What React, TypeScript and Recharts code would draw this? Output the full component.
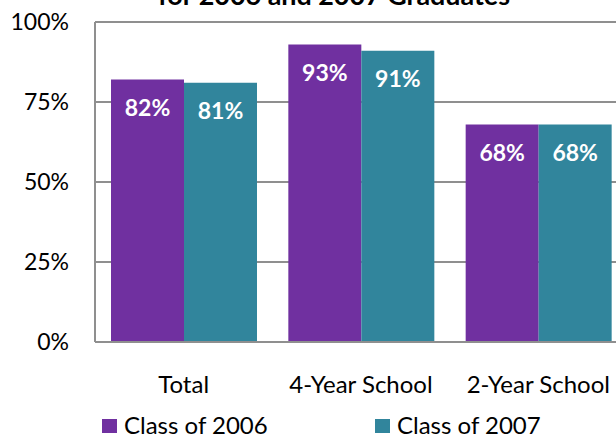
import { BarChart, Bar, XAxis, YAxis, CartesianGrid, LabelList } from 'recharts';

const categories = ['Total', '4-Year School', '2-Year School'];
const class2006 = [0.82, 0.93, 0.68];
const class2007 = [0.81, 0.91, 0.68];
const yTicks = [0, 0.25, 0.5, 0.75, 1];

const PURPLE = '#7030a0';
const TEAL = '#31859c';
const GRID = '#8f8f8f';
const FONT = 'Lato, "Noto Sans", sans-serif';

const data = categories.map((name, i) => ({
  name,
  c2006: class2006[i],
  c2007: class2007[i],
}));

const pct = (v: number) => `${Math.round(v * 100)}%`;

const legendItems = [
  { label: 'Class of 2006', color: PURPLE, left: 102 },
  { label: 'Class of 2007', color: TEAL, left: 375 },
];

export default function App() {
  return (
    <div
      style={{
        position: 'absolute', left: 0, top: 0, width: 616, height: 435,
        overflow: 'hidden', background: '#fff', fontFamily: FONT,
      }}
    >
      <svg width={616} height={30} style={{ position: 'absolute', left: 0, top: 0 }}>
        <text
          x={334} y={5} textAnchor="middle" fontSize={27} fontWeight="bold" fill="#000"
          fontFamily={FONT} textLength={352} lengthAdjust="spacingAndGlyphs"
        >
          for 2006 and 2007 Graduates
        </text>
      </svg>

      <div style={{ position: 'absolute', left: 0, top: 0 }}>
        <BarChart
          width={640}
          height={435}
          data={data}
          margin={{ top: 22, right: 13, bottom: 33, left: 0 }}
          barCategoryGap={16}
          barGap={0}
        >
          <CartesianGrid vertical={false} stroke={GRID} strokeWidth={2} />
          <XAxis
            dataKey="name"
            height={60}
            tickLine={false}
            tickSize={0}
            tickMargin={34}
            axisLine={{ stroke: GRID, strokeWidth: 2 }}
            tick={{ fill: '#000', fontSize: 24, fontFamily: FONT }}
            interval={0}
          />
          <YAxis
            width={95}
            domain={[0, 1]}
            ticks={yTicks}
            tickFormatter={pct}
            tickLine={false}
            tickSize={0}
            tickMargin={26}
            axisLine={{ stroke: GRID, strokeWidth: 2 }}
            tick={{ fill: '#000', fontSize: 23, fontFamily: FONT }}
          />
          <Bar dataKey="c2006" fill={PURPLE} isAnimationActive={false}>
            <LabelList
              dataKey="c2006"
              position="insideTop"
              offset={20}
              formatter={(v: any) => pct(Number(v))}
              fill="#fff"
              fontSize={23}
              fontWeight="bold"
              fontFamily={FONT}
            />
          </Bar>
          <Bar dataKey="c2007" fill={TEAL} isAnimationActive={false}>
            <LabelList
              dataKey="c2007"
              position="insideTop"
              offset={20}
              formatter={(v: any) => pct(Number(v))}
              fill="#fff"
              fontSize={23}
              fontWeight="bold"
              fontFamily={FONT}
            />
          </Bar>
        </BarChart>
      </div>

      {legendItems.map((it) => (
        <div key={it.label}>
          <span
            style={{
              position: 'absolute', left: it.left, top: 419, width: 15, height: 14,
              background: it.color,
            }}
          />
          <span
            style={{
              position: 'absolute', left: it.left + 22, top: 413, height: 24,
              fontSize: 24, lineHeight: '24px', color: '#000', whiteSpace: 'nowrap',
            }}
          >
            {it.label}
          </span>
        </div>
      ))}
    </div>
  );
}
